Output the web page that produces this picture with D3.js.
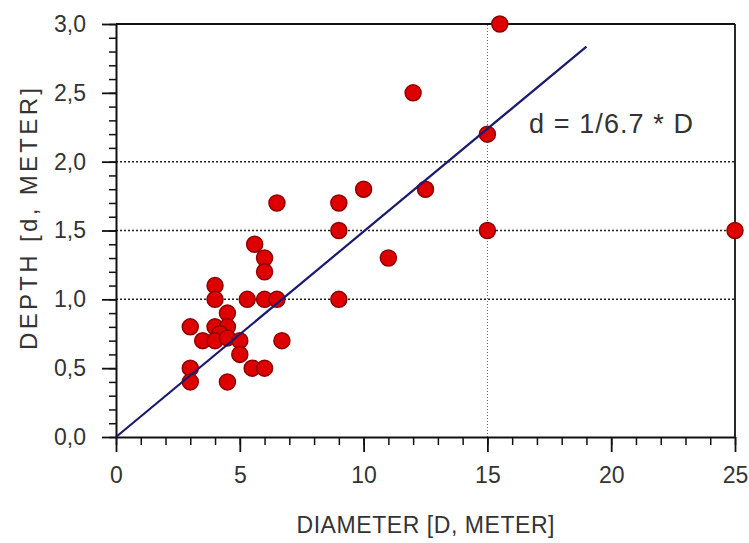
<!DOCTYPE html>
<html>
<head>
<meta charset="utf-8">
<script src="https://cdn.jsdelivr.net/npm/d3@7"></script>
<style>
  body { margin: 0; background: #fff; }
  svg { display: block; }
  text { font-family: "Liberation Sans", Arial, sans-serif; fill: #333; }
</style>
</head>
<body>
<svg id="chart" width="749" height="543"></svg>
<script>
// crater diameter D and depth d
const diameter = [15.5, 12, 15, 15, 25, 12.5, 10, 9, 9, 6.5, 11, 9,
                  5.6, 6, 6, 6, 6.5, 5.3, 4, 4, 6.7, 5.5, 6, 4.5,
                  3, 3, 3, 4.5, 4, 4.5, 4.2, 3.5, 4, 4.5, 5, 5];
const depth    = [3.0, 2.5, 2.2, 1.5, 1.5, 1.8, 1.8, 1.7, 1.5, 1.7, 1.3, 1.0,
                  1.4, 1.3, 1.2, 1.0, 1.0, 1.0, 1.1, 1.0, 0.7, 0.5, 0.5, 0.4,
                  0.5, 0.4, 0.8, 0.9, 0.8, 0.8, 0.75, 0.7, 0.7, 0.72, 0.7, 0.6];

const xTicks = [0, 5, 10, 15, 20, 25];
const yTicks = [0, 0.5, 1.0, 1.5, 2.0, 2.5, 3.0];
const yGrid = [1.0, 1.5, 2.0];
const xGrid = [15];

// fitted line d = D / 6.7
const fitSlope = 1 / 6.7;
const fitD = [0, 19];

const svg = d3.select("#chart");
const plotL = 116, plotR = 735, plotT = 24, plotB = 437;

const x = d3.scaleLinear().domain([0, 25]).range([plotL, plotR]);
const y = d3.scaleLinear().domain([0, 3]).range([plotB, plotT]);

const comma = v => d3.format(".1f")(v).replace(".", ",");

// grid lines
svg.selectAll(".hgrid")
    .data(yGrid)
    .enter()
    .append("line")
    .attr("x1", x(0)).attr("x2", x(25))
    .attr("y1", d => y(d)).attr("y2", d => y(d))
    .attr("stroke", "#222")
    .attr("stroke-width", 1.5)
    .attr("stroke-dasharray", "2,2");

svg.selectAll(".vgrid")
    .data(xGrid)
    .enter()
    .append("line")
    .attr("x1", d => x(d)).attr("x2", d => x(d))
    .attr("y1", y(0)).attr("y2", y(3))
    .attr("stroke", "#555")
    .attr("stroke-width", 1)
    .attr("stroke-dasharray", "1,2");

// minor ticks
svg.append("g")
    .attr("transform", `translate(${plotL},0)`)
    .call(d3.axisLeft(y).tickValues(d3.range(0, 31).map(i => i / 10))
        .tickSize(7).tickSizeOuter(0).tickFormat(""))
    .call(g => g.select(".domain").remove())
    .selectAll("line").attr("stroke", "#111").attr("stroke-width", 1.5);

svg.append("g")
    .attr("transform", `translate(0,${plotB})`)
    .call(d3.axisBottom(x).tickValues(d3.range(0, 26))
        .tickSize(8).tickSizeOuter(0).tickFormat(""))
    .call(g => g.select(".domain").remove())
    .selectAll("line").attr("stroke", "#111").attr("stroke-width", 1.5);

// major axes
const yAxis = svg.append("g")
    .attr("transform", `translate(${plotL},0)`)
    .call(d3.axisLeft(y).tickValues(yTicks).tickSize(14).tickSizeOuter(0)
        .tickPadding(16).tickFormat(comma));

const xAxis = svg.append("g")
    .attr("transform", `translate(0,${plotB})`)
    .call(d3.axisBottom(x).tickValues(xTicks).tickSize(15).tickSizeOuter(0)
        .tickPadding(15).tickFormat(d3.format("d")));

[yAxis, xAxis].forEach(g => {
    g.select(".domain").attr("stroke", "#111").attr("stroke-width", 2);
    g.selectAll(".tick line").attr("stroke", "#111").attr("stroke-width", 1.8);
    g.selectAll(".tick text")
        .attr("font-family", "'Liberation Sans', Arial, sans-serif")
        .style("font-size", "23px")
        .attr("fill", "#333");
});

// top and right frame
svg.append("line")
    .attr("x1", x(0)).attr("x2", x(25))
    .attr("y1", y(3)).attr("y2", y(3))
    .attr("stroke", "#111").attr("stroke-width", 1.8);
svg.append("line")
    .attr("x1", x(25)).attr("x2", x(25))
    .attr("y1", y(3)).attr("y2", y(0))
    .attr("stroke", "#111").attr("stroke-width", 1.8);

// points
const points = diameter.map((D, i) => ({ D: D, d: depth[i] }));
svg.selectAll(".pt")
    .data(points)
    .enter()
    .append("circle")
    .attr("cx", d => x(d.D))
    .attr("cy", d => y(d.d))
    .attr("r", 8)
    .attr("fill", "#de0000")
    .attr("stroke", "#8e0000")
    .attr("stroke-width", 1.5);

// fitted line
svg.append("path")
    .datum(fitD)
    .attr("d", d3.line().x(D => x(D)).y(D => y(D * fitSlope)))
    .attr("fill", "none")
    .attr("stroke", "#1a1a6e")
    .attr("stroke-width", 2.2);

// equation
svg.append("text")
    .attr("x", 529).attr("y", 133)
    .attr("textLength", 164)
    .style("font-size", "27px")
    .attr("fill", "#3a3a3a")
    .text("d = 1/6.7 * D");

// axis titles
svg.append("text")
    .attr("x", (plotL + plotR) / 2).attr("y", 533)
    .attr("text-anchor", "middle")
    .attr("textLength", 258)
    .style("font-size", "23px")
    .text("DIAMETER [D, METER]");

svg.append("text")
    .attr("transform", `translate(37,219) rotate(-90)`)
    .attr("text-anchor", "middle")
    .attr("textLength", 262)
    .style("font-size", "24px")
    .text("DEPTH [d, METER]");
</script>
</body>
</html>
